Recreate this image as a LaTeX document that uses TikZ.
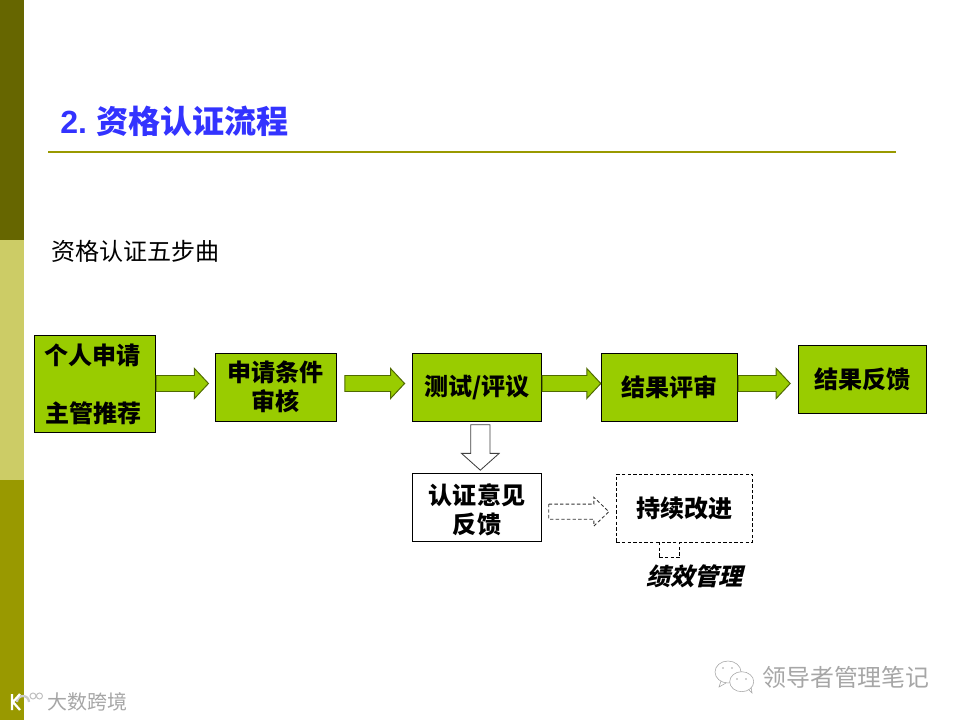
\documentclass[tikz,border=0pt]{standalone}
\usepackage{fontspec}
\setmainfont{Noto Sans CJK SC}
\newfontfamily\slantcjk[FakeSlant=0.25]{Noto Sans CJK SC}
\newfontfamily\latinhead{Liberation Sans}
\usetikzlibrary{calc}
\definecolor{oliveDark}{HTML}{666600}
\definecolor{oliveLight}{HTML}{CCCC66}
\definecolor{oliveMid}{HTML}{999900}
\definecolor{leaf}{HTML}{99CC00}
\definecolor{leafEdge}{HTML}{4F6A00}
\definecolor{titleBlue}{HTML}{3333FF}
\begin{document}
\begin{tikzpicture}[
  x=0.025cm, y=-0.025cm,
  band/.style={draw=none},
  stepbox/.style={rectangle, draw=black, fill=leaf, line width=0.7pt, inner sep=0pt,
                  align=center, font=\fontsize{17.1}{20.6}\selectfont\bfseries},
  whitebox/.style={stepbox, fill=white},
  dashbox/.style={whitebox, dashed, line width=0.6pt, dash pattern=on 2.4pt off 1.6pt},
  blockarr/.style n args={3}{to path={
    let \p1=($(\tikztotarget)!#3!(\tikztostart)$) in
    ($(\tikztostart)!#1!90:(\tikztotarget)$)
    -- ($(\p1)!#1!90:(\tikztotarget)$) -- ($(\p1)!#2!90:(\tikztotarget)$)
    -- (\tikztotarget)
    -- ($(\p1)!#2!-90:(\tikztotarget)$) -- ($(\p1)!#1!-90:(\tikztotarget)$)
    -- ($(\tikztostart)!#1!-90:(\tikztotarget)$) -- cycle}},
  greenarr/.style={blockarr={0.2cm}{0.375cm}{0.35cm}, draw=leafEdge, fill=leaf, line width=0.7pt},
  hollowarr/.style={blockarr={0.24cm}{0.47cm}{0.42cm}, draw=black!75, fill=white, line width=0.6pt},
  dasharr/.style={blockarr={0.19cm}{0.36cm}{0.375cm}, draw=black!80, fill=white, line width=0.6pt,
                  dash pattern=on 2.4pt off 1.6pt},
  mark text/.style={text=black!35, font=\fontsize{#1}{#1}\selectfont},
  chat/.style={draw=black!35, fill=white, line width=0.4pt}
]
  \useasboundingbox (0,0) rectangle (960,720);

  % side bands
  \fill[band, oliveDark] (0,0) rectangle (24,240);
  \fill[band, oliveLight] (0,240) rectangle (24,480);
  \fill[band, oliveMid] (0,480) rectangle (24,720);

  % heading
  \node[anchor=west, inner sep=0pt, text=titleBlue, font=\fontsize{22.8}{24}\selectfont\bfseries]
    (title) at (60,121) {{\latinhead 2.}\hspace{6.6pt}资格认证流程};
  \draw[oliveMid, line width=1.1pt] (48,152) -- (896,152);
  \node[anchor=west, inner sep=0pt, font=\fontsize{17.1}{20}\selectfont]
    (sub) at (51,251) {资格认证五步曲};

  % main row
  \coordinate (rail) at (0,383.5);
  \node[stepbox, minimum width=3.035cm, minimum height=2.425cm] (apply) at (95,383.8)
    {\rule{0pt}{15pt}个人申请\kern3pt\\[20.6pt]主管推荐\kern2pt};
  \node[stepbox, minimum width=3.025cm, minimum height=1.7cm] (check) at (275.8,387.3)
    {申请条件\\审核};
  \node[stepbox, minimum width=3.235cm, minimum height=1.7cm] (test) at (477,387.3)
    {测试/评议};
  \node[stepbox, minimum width=3.41cm, minimum height=1.7cm] (review) at (669.5,387.3)
    {结果评审};
  \node[stepbox, minimum width=3.21cm, minimum height=1.7cm] (back) at (862.5,379.3)
    {结果反馈};

  \draw[greenarr] (apply.east |- rail) to ([xshift=-0.158cm]check.west |- rail);
  \draw[greenarr] ([xshift=0.2cm]check.east |- rail) to ([xshift=-0.18cm]test.west |- rail);
  \draw[greenarr] (test.east |- rail) to (review.west |- rail);
  \draw[greenarr] (review.east |- rail) to ([xshift=-0.19cm]back.west |- rail);

  % lower row
  \node[whitebox, minimum width=3.235cm, minimum height=1.7cm] (opinion) at (477,507.3)
    {\rule{0pt}{18pt}认证意见\\反馈};
  \node[dashbox, minimum width=3.41cm, minimum height=1.7cm] (improve) at (684.5,508.3)
    {持续改进};
  \node[dashbox, minimum width=0.51cm, minimum height=0.39cm] (tab) at (669.5,550) {};
  \node[inner sep=0pt, font=\fontsize{17.1}{20}\slantcjk\bfseries] (perf) at (694.5,576) {绩效管理};

  \draw[hollowarr] ([xshift=0.083cm,yshift=-0.075cm]test.south)
    to ([xshift=0.083cm,yshift=0.065cm]opinion.north);
  \draw[dasharr] ([xshift=0.165cm,yshift=-0.11cm]opinion.east)
    to ([xshift=-0.175cm,yshift=-0.085cm]improve.west);

  % marks in the corners
  \node[mark text=14.2, anchor=west, inner sep=0pt] (shop) at (47,702) {大数跨境};
  \draw[black!20, line width=1.6pt] (17,702) arc[start angle=180, end angle=360, radius=6];
  \draw[white, line width=1.6pt] (12,694) -- (12,710) (20,694) -- (13,702) -- (20,710);
  \draw[black!25, line width=0.7pt] (33,696) circle[radius=3] (39.5,696) circle[radius=3];

  \node[mark text=17, anchor=west, inner sep=0pt] (note) at (762,677) {领导者管理笔记};
  \draw[chat] (721,681) -- (719,687) -- (726,683);
  \draw[chat] (728,672) ellipse[x radius=13, y radius=11];
  \draw[chat] (748,689) -- (752,693) -- (751,687);
  \draw[chat] (741.7,681.7) ellipse[x radius=12, y radius=10];
  \fill[black!35] (723,668) circle[radius=0.8] (732,668) circle[radius=0.8]
    (737,679) circle[radius=0.8] (746,679) circle[radius=0.8];
\end{tikzpicture}
\end{document}
